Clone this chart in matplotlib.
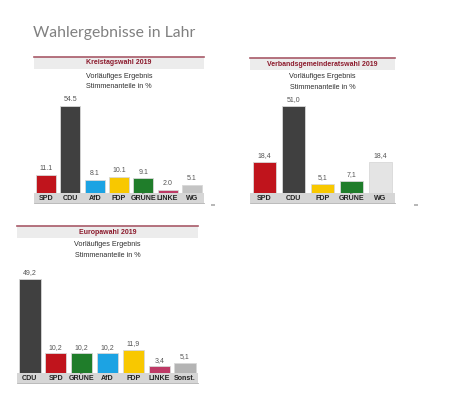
import matplotlib
matplotlib.use("Agg")
import matplotlib.pyplot as plt
from matplotlib.patches import Rectangle
from matplotlib.lines import Line2D

W, H = 461, 397

# ---------------- data ----------------
kt_parties = ["SPD", "CDU", "AfD", "FDP", "GRÜNE", "LINKE", "WG"]
kt_values = [11.1, 54.5, 8.1, 10.1, 9.1, 2.0, 5.1]

vg_parties = ["SPD", "CDU", "FDP", "GRÜNE", "WG"]
vg_values = [18.4, 51.0, 5.1, 7.1, 18.4]

eu_parties = ["CDU", "SPD", "GRÜNE", "AfD", "FDP", "LINKE", "Sonst."]
eu_values = [49.2, 10.2, 10.2, 10.2, 11.9, 3.4, 5.1]

party_colors = {
    "SPD": "#c0141c", "CDU": "#404040", "AfD": "#1ca3e3", "FDP": "#f8c800",
    "GRÜNE": "#1f7d2a", "LINKE": "#be3a66", "Sonst.": "#b4b4b4",
}

fig = plt.figure(figsize=(W / 100, H / 100), dpi=100)
fig.patch.set_facecolor("white")
FONT = ["Liberation Sans", "DejaVu Sans"]


def fx(x):
    return x / W


def fy(y):
    return 1 - y / H


fig.text(fx(33), fy(33), "Wahlergebnisse in Lahr", fontsize=11.3,
         family=["Lato", "DejaVu Sans"], color="#808080", va="center", ha="left")


def panel(x0, x1, y_head, y_base, px_per_unit, parties, values, title,
          sep, wg_color, mark_x):
    # header
    fig.patches.append(Rectangle((fx(x0), fy(y_head + 12)), fx(x1 - x0), (12) / H,
                                 transform=fig.transFigure, facecolor="#ececec",
                                 edgecolor="none"))
    fig.lines.append(Line2D([fx(x0), fx(x1)], [fy(y_head), fy(y_head)],
                            transform=fig.transFigure, color="#a85a68", lw=1.2))
    fig.text(fx((x0 + x1) / 2), fy(y_head + 6), title, fontsize=5.0,
             fontweight="bold", color="#8c1a2c", ha="center", va="center",
             family=FONT)
    fig.text(fx((x0 + x1) / 2), fy(y_head + 19), "Vorläufiges Ergebnis",
             fontsize=5.2, color="#303030", ha="center", va="center", family=FONT)
    fig.text(fx((x0 + x1) / 2), fy(y_head + 29.5), "Stimmenanteile in %",
             fontsize=5.2, color="#303030", ha="center", va="center", family=FONT)

    # axes
    ymax = 60
    top = y_base - ymax * px_per_unit
    ax = fig.add_axes([fx(x0), fy(y_base), fx(x1 - x0), (y_base - top) / H])
    ax.set_xlim(-0.5, len(parties) - 0.5)
    ax.set_ylim(0, ymax)
    ax.axis("off")
    cols = [party_colors.get(p, wg_color) if p != "WG" else wg_color for p in parties]
    ax.bar(range(len(parties)), values, width=0.82, color=cols,
           edgecolor="#d8d8d8", linewidth=0.6)
    for i, v in enumerate(values):
        s = f"{v:.1f}".replace(".", sep)
        ax.annotate(s, (i, v), xytext=(0, 2), textcoords="offset points",
                    ha="center", va="bottom", fontsize=5.0, color="#555555",
                    family=FONT)
    # label band
    fig.patches.append(Rectangle((fx(x0), fy(y_base + 9.5)), fx(x1 - x0), 9.5 / H,
                                 transform=fig.transFigure, facecolor="#d6d6d6",
                                 edgecolor="none"))
    fig.lines.append(Line2D([fx(x0), fx(x1)], [fy(y_base + 9.5), fy(y_base + 9.5)],
                            transform=fig.transFigure, color="#b0b0b0", lw=0.6))
    for i, p in enumerate(parties):
        xd = ax.transData.transform((i, 0))[0]
        xf = fig.transFigure.inverted().transform((xd, 0))[0]
        fig.text(xf, fy(y_base + 5), p, fontsize=5.1, fontweight="bold",
                 color="#222222", ha="center", va="center", family=FONT)
    if mark_x is not None:
        fig.patches.append(Rectangle((fx(mark_x), fy(y_base + 13)), fx(4), 2 / H,
                                     transform=fig.transFigure,
                                     facecolor="#b8b8b8", edgecolor="none"))


panel(34, 204, 57, 193, 1.60, kt_parties, kt_values, "Kreistagswahl 2019",
      ".", "#c4c4c4", 211)
panel(250, 395, 58, 193, 1.71, vg_parties, vg_values,
      "Verbandsgemeinderatswahl 2019", ",", "#e4e4e4", 414)
panel(17, 198, 226, 373, 1.92, eu_parties, eu_values, "Europawahl 2019",
      ",", "#b4b4b4", None)

fig.savefig("out.png", dpi=100, facecolor="white")
